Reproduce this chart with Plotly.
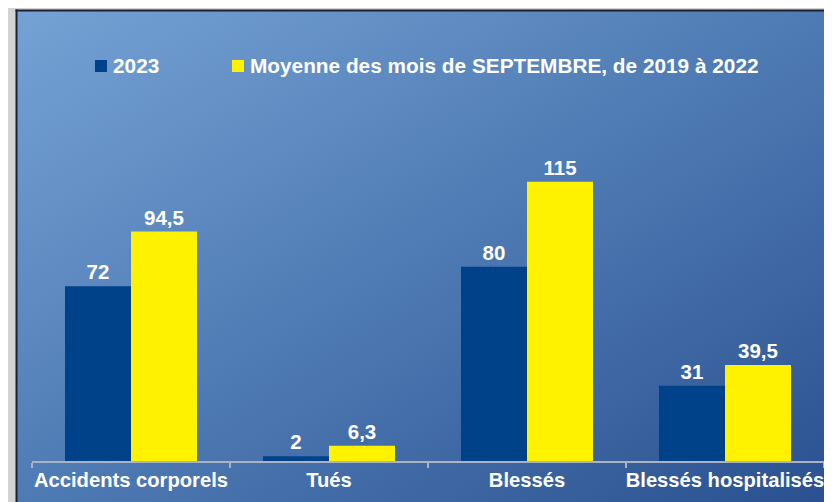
import base64
import plotly.graph_objects as go

categories = ["Accidents corporels", "Tués", "Blessés", "Blessés hospitalisés"]
series_2023 = [72, 2, 80, 31]
series_moy = [94.5, 6.3, 115, 39.5]
name_2023 = "2023"
name_moy = "Moyenne des mois de SEPTEMBRE, de 2019 à 2022"
color_2023 = "#00428a"
color_moy = "#fff200"

OFF = 8  # page body margin
W, H = 832 - OFF, 502 - OFF
# plot area in screen pixels: x 32..824, y 121..461
ML, MR, MT, MB = 32 - OFF, 8, 121 - OFF, 41
PW, PH = W - ML - MR, H - MT - MB
YMAX = 140


def px_x(sx):
    return (sx - OFF - ML) / PW


def px_y(sy):
    return (H - MB - (sy - OFF)) / PH


def fmt(v):
    return ("%g" % v).replace(".", ",")


FONT = "Liberation Sans, Arial, sans-serif"

svg = f"""<svg xmlns='http://www.w3.org/2000/svg' width='820' height='496' viewBox='0 0 820 496' preserveAspectRatio='none'>
<defs><linearGradient id='g' x1='0' y1='0' x2='1' y2='1'>
<stop offset='0' stop-color='#75a2d5'/>
<stop offset='0.5' stop-color='#4e7ab3'/>
<stop offset='1' stop-color='#294f8e'/>
</linearGradient></defs>
<rect x='0' y='0' width='820' height='496' fill='url(#g)'/>
</svg>"""
src = "data:image/svg+xml;base64," + base64.b64encode(svg.encode()).decode()

fig = go.Figure()
for name, vals, col in [(name_2023, series_2023, color_2023), (name_moy, series_moy, color_moy)]:
    fig.add_bar(
        x=categories, y=vals, name=name,
        marker=dict(color=col, line=dict(width=0)),
        text=[fmt(v) for v in vals], textposition="outside",
        textfont=dict(family=FONT, size=20.5, color="white", weight="bold"),
        cliponaxis=False, showlegend=False,
    )

# manual legend (square + label)
shapes = []
annotations = []
for name, col, mx in [(name_2023, color_2023, 95), (name_moy, color_moy, 232)]:
    shapes.append(dict(type="rect", xref="paper", yref="paper",
                       x0=px_x(mx), x1=px_x(mx + 12), y0=px_y(72), y1=px_y(60),
                       fillcolor=col, line=dict(width=0)))
    annotations.append(dict(text=name, xref="paper", yref="paper",
                            x=px_x(mx + 16), y=px_y(66), xanchor="left", yanchor="middle",
                            showarrow=False,
                            font=dict(family=FONT, size=20.8, color="white", weight="bold")))

shapes += [
    dict(type="line", xref="paper", yref="paper", x0=px_x(16.5), x1=px_x(16.5),
         y0=px_y(9.5), y1=px_y(520), line=dict(color="#1c2030", width=2)),
    dict(type="line", xref="paper", yref="paper", x0=px_x(15.5), x1=px_x(850),
         y0=px_y(10.5), y1=px_y(10.5), line=dict(color="#1c2030", width=2)),
]

fig.update_layout(
    width=W, height=H,
    margin=dict(l=ML, r=MR, t=MT, b=MB, pad=0, autoexpand=False),
    paper_bgcolor="#d3d3d3",
    plot_bgcolor="rgba(0,0,0,0)",
    barmode="group", bargap=1 / 3, bargroupgap=0,
    font=dict(family=FONT, color="white"),
    showlegend=False,
    xaxis=dict(
        type="category", showgrid=False, zeroline=False, automargin=False,
        showline=True, linecolor="#a9b3c4", linewidth=2, tickangle=0,
        ticks="outside", tickson="boundaries", ticklen=5, tickcolor="#a9b3c4", tickwidth=2,
        tickfont=dict(family=FONT, size=20.2, color="white", weight="bold"),
        fixedrange=True,
    ),
    yaxis=dict(range=[0, YMAX], visible=False, showgrid=False, zeroline=False,
               fixedrange=True, automargin=False),
    images=[dict(
        source=src, xref="paper", yref="paper",
        x=px_x(16), y=px_y(10), sizex=px_x(840) - px_x(16), sizey=px_y(10) - px_y(515),
        xanchor="left", yanchor="top", sizing="stretch", layer="below",
    )],
    shapes=shapes,
    annotations=annotations,
)

fig.write_html("out.html")
